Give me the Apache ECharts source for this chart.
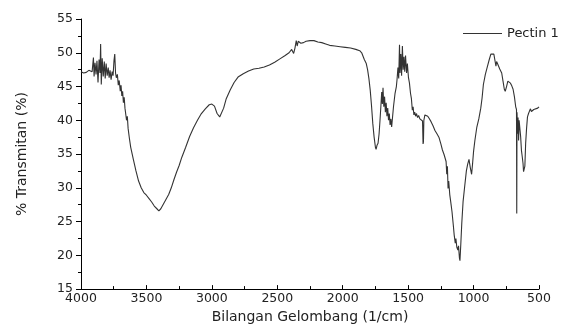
<!DOCTYPE html>
<html>
<head>
<meta charset="utf-8">
<script src="https://cdn.jsdelivr.net/npm/echarts@6/dist/echarts.min.js"></script>
<style>
  html, body { margin: 0; padding: 0; background: #fff; }
  #chart { width: 563px; height: 329px; }
</style>
</head>
<body>
<div id="chart"></div>
<script>
// FTIR spectrum
var wavenumber = [
  4000, 3980, 3960, 3940, 3925, 3915, 3905, 3900, 3893, 3885, 3878, 3870, 3862, 3855, 3850, 3845,
  3838, 3830, 3822, 3815, 3808, 3800, 3792, 3785, 3778, 3770, 3762, 3755, 3748, 3742, 3736, 3730,
  3722, 3715, 3708, 3700, 3694, 3688, 3682, 3676, 3670, 3664, 3658, 3652, 3646, 3640, 3630, 3620,
  3600, 3580, 3560, 3540, 3520, 3500, 3480, 3460, 3440, 3420, 3405, 3390, 3370, 3350, 3330, 3310,
  3290, 3270, 3250, 3230, 3200, 3170, 3140, 3110, 3080, 3050, 3020, 3000, 2980, 2960, 2940, 2925,
  2910, 2890, 2860, 2830, 2800, 2760, 2720, 2680, 2640, 2600, 2560, 2520, 2480, 2440, 2410, 2390,
  2375, 2365, 2355, 2348, 2340, 2320, 2300, 2280, 2250, 2220, 2190, 2160, 2130, 2100, 2060, 2020,
  1980, 1940, 1900, 1870, 1855, 1845, 1835, 1820, 1810, 1800, 1790, 1780, 1770, 1760, 1750, 1745,
  1738, 1730, 1722, 1715, 1708, 1702, 1697, 1692, 1686, 1680, 1674, 1668, 1662, 1656, 1650, 1644,
  1638, 1632, 1626, 1620, 1612, 1600, 1590, 1585, 1578, 1572, 1566, 1562, 1556, 1550, 1544, 1538,
  1532, 1526, 1520, 1512, 1506, 1498, 1490, 1482, 1475, 1468, 1462, 1456, 1450, 1443, 1436, 1428,
  1420, 1410, 1400, 1390, 1386, 1383, 1380, 1372, 1362, 1350, 1340, 1325, 1310, 1295, 1280, 1265,
  1250, 1238, 1225, 1210, 1205, 1200, 1195, 1190, 1182, 1175, 1165, 1155, 1148, 1140, 1135, 1128,
  1120, 1115, 1108, 1104, 1098, 1090, 1080, 1068, 1055, 1045, 1035, 1025, 1015, 1008, 1000, 990,
  975, 960, 945, 935, 925, 910, 895, 880, 868, 858, 845, 835, 829, 824, 815, 800,
  785, 775, 765, 758, 748, 738, 728, 718, 708, 698, 688, 678, 672, 670, 668, 664,
  660, 656, 652, 646, 640, 634, 628, 622, 618, 613, 608, 602, 595, 588, 580, 572,
  565, 558, 550, 540, 525, 510, 500
];
var transmittance = [
  47.2, 47.0, 47.1, 47.4, 47.6, 47.2, 49.3, 46.5, 48.5, 46.8, 48.8, 45.6, 49.0, 47.0, 51.3, 45.3,
  49.2, 46.5, 48.7, 46.2, 48.4, 46.6, 47.8, 46.3, 47.4, 46.0, 47.2, 46.6, 48.8, 49.8, 47.0, 46.3,
  46.8, 45.2, 45.9, 44.3, 45.2, 43.6, 44.3, 42.6, 43.4, 41.8, 42.0, 40.0, 40.6, 38.8, 37.3, 36.0,
  34.2, 32.5, 31.0, 30.0, 29.3, 28.9, 28.4, 27.9, 27.3, 26.9, 26.6, 26.9, 27.6, 28.3, 29.0, 30.0,
  31.2, 32.3, 33.3, 34.5, 36.0, 37.6, 38.9, 40.0, 41.0, 41.7, 42.3, 42.4, 42.1, 41.0, 40.5, 40.5,
  41.8, 43.2, 44.5, 45.6, 46.4, 46.9, 47.3, 47.6, 47.7, 47.9, 48.2, 48.6, 49.1, 49.6, 50.0, 50.5,
  49.9, 50.7, 51.8, 51.0, 51.7, 51.4, 51.5, 51.7, 51.8, 51.8, 51.6, 51.5, 51.3, 51.1, 51.0, 50.9,
  50.8, 50.7, 50.5, 50.3, 50.0, 49.9, 49.0, 48.4, 47.5, 46.2, 44.5, 42.2, 39.5, 37.5, 36.0, 35.7,
  36.3, 36.6, 38.0, 40.0, 42.2, 44.2, 42.4, 44.8, 42.0, 43.5, 41.2, 42.6, 40.6, 41.8, 40.0, 41.0,
  39.3, 40.2, 39.0, 40.3, 42.0, 44.0, 45.0, 46.0, 47.8, 46.2, 51.2, 47.0, 49.8, 46.6, 51.0, 47.5,
  49.4, 47.2, 49.6, 47.0, 48.4, 46.4, 45.5, 44.0, 43.2, 41.5, 42.0, 40.8, 41.2, 40.6, 41.0, 40.4,
  40.7, 40.2, 40.1, 39.9, 36.5, 36.8, 40.0, 40.8, 40.9, 40.6, 40.3, 39.8, 39.2, 38.5, 38.0, 37.5,
  36.5, 35.6, 34.9, 33.9, 32.0, 33.2, 29.9, 31.0, 29.0, 28.0, 26.5, 24.5, 23.0, 21.8, 22.5, 21.2,
  20.8, 21.4, 19.6, 19.2, 21.5, 24.8, 28.0, 30.2, 32.5, 33.5, 34.2, 33.0, 32.0, 33.5, 35.4, 37.0,
  39.0, 40.2, 41.8, 43.3, 45.3, 46.8, 47.9, 49.0, 49.8, 50.0, 49.8, 49.6, 48.0, 48.7, 48.3, 47.6,
  47.0, 45.8, 44.6, 44.3, 45.0, 45.8, 45.9, 45.5, 45.1, 44.6, 43.5, 42.0, 41.6, 26.2, 41.2, 38.0,
  40.4, 37.0, 40.0, 40.0, 37.5, 35.5, 34.6, 33.6, 32.4, 32.8, 33.2, 36.6, 38.8, 40.5, 41.0, 41.4,
  41.7, 41.3, 41.2, 41.6, 41.7, 41.8, 42.0
];
var seriesName = "Pectin 1";
var xTitle = "Bilangan Gelombang (1/cm)";
var yTitle = "% Transmitan (%)";

var points = wavenumber.map(function (w, i) { return [w, transmittance[i]]; });

var chart = echarts.init(document.getElementById("chart"));
var font = "DejaVu Sans, sans-serif";
var option = {
  animation: false,
  textStyle: { fontFamily: font },
  grid: { left: 81, right: 24, top: 19, bottom: 32 },
  legend: {
    left: 458,
    top: 22,
    itemWidth: 39,
    itemHeight: 1,
    itemGap: 6,
    icon: "rect",
    textStyle: { fontSize: 13, color: "#222", fontFamily: font },
    data: [seriesName]
  },
  xAxis: {
    type: "value",
    inverse: true,
    min: 500,
    max: 4000,
    interval: 500,
    name: xTitle,
    nameLocation: "middle",
    nameGap: 15,
    nameTextStyle: { fontSize: 14, color: "#222", verticalAlign: "top" },
    axisLine: { lineStyle: { color: "#000", width: 1 } },
    axisTick: { inside: true, length: 4, lineStyle: { color: "#000" } },
    minorTick: { show: true, splitNumber: 2, length: 3, lineStyle: { color: "#000" } },
    axisLabel: { fontSize: 12.5, color: "#222", margin: 3, formatter: function (v) { return String(v); } },
    splitLine: { show: false }
  },
  yAxis: {
    type: "value",
    min: 15,
    max: 55,
    interval: 5,
    name: yTitle,
    nameLocation: "middle",
    nameGap: 52,
    nameTextStyle: { fontSize: 14, color: "#222" },
    axisLine: { show: true, lineStyle: { color: "#000", width: 1 } },
    axisTick: { show: true, length: 5, lineStyle: { color: "#000" } },
    minorTick: { show: true, splitNumber: 2, length: 3, lineStyle: { color: "#000" } },
    axisLabel: { fontSize: 12.5, color: "#222", margin: 8 },
    splitLine: { show: false }
  },
  series: [{
    name: seriesName,
    type: "line",
    data: points,
    showSymbol: false,
    color: "#333",
    lineStyle: { width: 1.1, color: "#333" }
  }]
};
chart.setOption(option);
</script>
</body>
</html>
